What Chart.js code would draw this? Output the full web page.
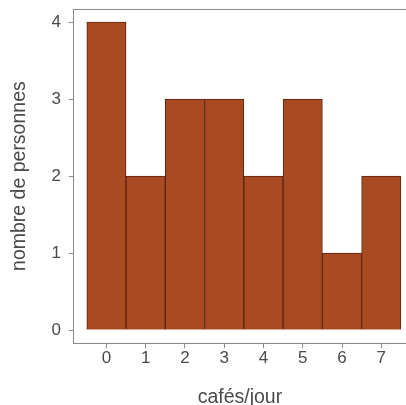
<!DOCTYPE html>
<html>
<head>
<meta charset="utf-8">
<script src="https://cdn.jsdelivr.net/npm/chart.js@4/dist/chart.umd.min.js"></script>
<style>
  html, body { margin: 0; padding: 0; background: #fff; }
  #wrap { width: 406px; height: 405px; }
</style>
</head>
<body>
<div id="wrap"><canvas id="chart"></canvas></div>
<script>
const cafesParJour = [0, 1, 2, 3, 4, 5, 6, 7];
const nombrePersonnes = [4, 2, 3, 3, 2, 3, 1, 2];
const yTicks = [0, 1, 2, 3, 4];

const axisGrey = '#8a8a8a';
const textGrey = '#4a4a4a';

new Chart(document.getElementById('chart'), {
  type: 'bar',
  data: {
    datasets: [{
      data: cafesParJour.map((c, i) => ({ x: c, y: nombrePersonnes[i] })),
      backgroundColor: '#a84a22',
      borderColor: '#5a2410',
      borderWidth: 1,
      barPercentage: 1,
      categoryPercentage: 1,
    }],
  },
  options: {
    responsive: true,
    maintainAspectRatio: false,
    animation: false,
    layout: { padding: { top: 9, right: 0, left: 8, bottom: -4 } },
    plugins: { legend: { display: false }, tooltip: { enabled: false } },
    scales: {
      x: {
        type: 'linear',
        offset: false,
        min: -0.83,
        max: 7.63,
        afterBuildTicks: (axis) => { axis.ticks = cafesParJour.map((v) => ({ value: v })); },
        ticks: { color: textGrey, font: { family: 'Liberation Sans', size: 17 }, padding: 0 },
        grid: { offset: false, drawOnChartArea: false, drawTicks: true, tickLength: 5, color: axisGrey },
        border: { display: true, color: axisGrey, width: 1 },
        title: { display: true, text: 'cafés/jour', color: textGrey, font: { family: 'Liberation Sans', size: 19.5 }, padding: { top: 17, bottom: 0 } },
      },
      xTop: {
        type: 'linear',
        position: 'top',
        offset: false,
        min: -0.83,
        max: 7.63,
        ticks: { display: false },
        grid: { drawOnChartArea: false, drawTicks: false },
        border: { display: true, color: axisGrey, width: 1 },
      },
      y: {
        min: -0.17,
        max: 4.17,
        afterBuildTicks: (axis) => { axis.ticks = yTicks.map((v) => ({ value: v })); },
        afterFit: (axis) => { axis.paddingTop = 0; axis.paddingBottom = 0; },
        ticks: { color: textGrey, font: { family: 'Liberation Sans', size: 17 }, padding: 8 },
        grid: { drawOnChartArea: false, drawTicks: true, tickLength: 5, color: axisGrey },
        border: { display: true, color: axisGrey, width: 1 },
        title: { display: true, text: 'nombre de personnes', color: textGrey, font: { family: 'Liberation Sans', size: 19.5 }, padding: { top: 0, bottom: 12 } },
      },
    },
  },
});
</script>
</body>
</html>
